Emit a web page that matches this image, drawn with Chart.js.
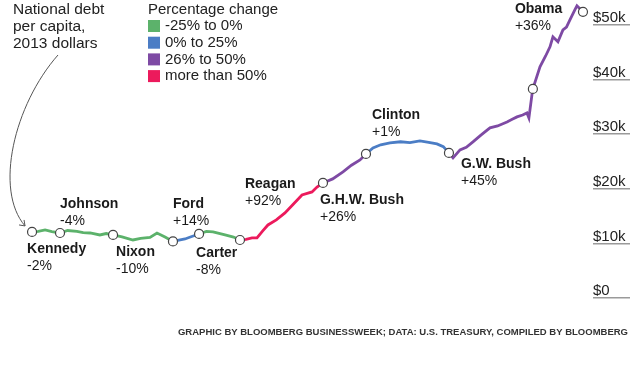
<!DOCTYPE html>
<html>
<head>
<meta charset="utf-8">
<script src="https://cdn.jsdelivr.net/npm/chart.js@4/dist/chart.umd.min.js"></script>
<style>
  body { margin: 0; background: #fff; }
  canvas { display: block; }
</style>
</head>
<body>
<canvas id="chartDeuda" width="630" height="375"></canvas>
<script>
// Debt per capita (thousands of 2013 dollars)
const years = [
    1961.00, 1961.60, 1962.25, 1962.90, 1963.68, 1964.40, 1965.30, 1965.90, 1966.56, 1967.50,
    1968.10, 1968.76, 1969.62, 1970.67, 1971.40, 1972.30, 1972.97, 1973.74, 1974.50, 1975.65,
    1976.30, 1977.00, 1977.70, 1978.34, 1979.49, 1980.30, 1980.92, 1981.50, 1982.07, 1982.55,
    1983.10, 1983.60, 1984.40, 1985.23, 1986.00, 1986.86, 1987.82, 1988.30, 1988.87, 1989.80,
    1990.79, 1991.60, 1992.42, 1992.99, 1993.66, 1994.40, 1995.29, 1996.30, 1997.20, 1998.16,
    1999.00, 1999.79, 2000.40, 2000.94, 2001.33, 2002.00, 2002.60, 2003.24, 2004.00, 2004.87,
    2005.60, 2006.50, 2007.00, 2007.46, 2008.00, 2008.41, 2008.60, 2008.89, 2008.98, 2009.66,
    2010.20, 2010.62, 2010.90, 2011.38, 2011.86, 2012.20, 2012.53, 2013.00, 2013.20, 2013.78
];
const debt = [
    12.09, 12.20, 12.45, 12.15, 11.90, 12.35, 12.18, 11.95, 11.90, 11.54,
    11.80, 11.54, 11.17, 10.62, 10.90, 11.08, 11.90, 11.17, 10.35, 10.81,
    11.25, 11.72, 12.20, 12.09, 11.54, 11.15, 10.62, 10.75, 10.99, 10.99,
    12.30, 13.37, 14.30, 15.57, 17.10, 18.86, 19.41, 20.30, 21.06, 21.80,
    23.08, 24.30, 25.27, 26.37, 27.47, 28.05, 28.39, 28.60, 28.45, 28.75,
    28.50, 28.21, 27.70, 26.56, 25.64, 27.11, 27.60, 28.57, 29.80, 31.14,
    31.50, 32.23, 32.70, 33.15, 33.50, 33.88, 32.97, 37.18, 38.28, 42.31,
    44.30, 45.97, 47.80, 46.89, 49.08, 49.60, 50.92, 52.75, 53.48, 52.38
];

// Presidents: term start, debt at start, change over the term, colour category
const presidents = ['Kennedy', 'Johnson', 'Nixon', 'Ford', 'Carter', 'Reagan', 'G.H.W. Bush', 'Clinton', 'G.W. Bush', 'Obama'];
const changes = ['-2%', '-4%', '-10%', '+14%', '-8%', '+92%', '+26%', '+1%', '+45%', '+36%'];
const termStart = [1961.00, 1963.68, 1968.76, 1974.50, 1977.00, 1980.92, 1988.87, 1992.99, 2000.94, 2008.98];
const termStartDebt = [12.09, 11.90, 11.54, 10.35, 11.72, 10.62, 21.06, 26.37, 26.56, 38.28];
const termCategory = [0, 0, 0, 1, 0, 3, 2, 1, 2, 2];
const endYear = 2013.78;
const endDebt = 52.38;

// Legend categories
const categoryLabels = ['-25% to 0%', '0% to 25%', '26% to 50%', 'more than 50%'];
const categoryColors = ['#5cb26b', '#4b7dc5', '#7e4aa4', '#ec1a5c'];

// Y axis ticks
const yTickValues = [0, 10, 20, 30, 40, 50];
const yTickLabels = ['$0', '$10k', '$20k', '$30k', '$40k', '$50k'];

const FONT = '"Liberation Sans", Arial, sans-serif';

// Where each president's name sits relative to his marker (dx, dy of the name line)
const labelPlacement = [
    [-5, 17], [0, -29], [3, 17], [0, -37], [-3, 19],
    [5, -56], [-3, 17], [6, -39], [12, 11], [-18, -80]
];

function colorForYear(x) {
    let cat = termCategory[0];
    for (let i = 0; i < termStart.length; i++) {
        if (x >= termStart[i] - 1e-6) cat = termCategory[i];
    }
    return categoryColors[cat];
}

const annotations = {
    id: 'annotations',
    afterDraw(chart) {
        const ctx = chart.ctx;
        const xs = chart.scales.x;
        const ys = chart.scales.y;
        ctx.save();
        ctx.textBaseline = 'middle';
        ctx.textAlign = 'left';

        // Header on the left
        ctx.fillStyle = '#222';
        ctx.font = '15.5px ' + FONT;
        ['National debt', 'per capita,', '2013 dollars'].forEach((t, i) => ctx.fillText(t, 13, 10 + i * 17));

        // Legend
        ctx.font = '15px ' + FONT;
        ctx.fillText('Percentage change', 148, 10);
        categoryLabels.forEach((t, i) => {
            const cy = 26 + i * 16.7;
            ctx.fillStyle = categoryColors[i];
            ctx.fillRect(148, cy - 6, 12, 12);
            ctx.fillStyle = '#222';
            ctx.fillText(t, 165, cy);
        });

        // Curved arrow towards Kennedy's marker
        const kx = xs.getPixelForValue(termStart[0]);
        const ky = ys.getPixelForValue(termStartDebt[0]);
        const ex = kx - 7, ey = ky - 6;
        ctx.strokeStyle = '#555';
        ctx.lineWidth = 1;
        ctx.beginPath();
        ctx.moveTo(58, 55);
        ctx.bezierCurveTo(14, 105, -6, 190, ex, ey);
        ctx.stroke();
        ctx.beginPath();
        ctx.moveTo(ex - 6, ey - 1);
        ctx.lineTo(ex, ey);
        ctx.lineTo(ex - 1, ey - 6);
        ctx.stroke();

        // President names and changes
        presidents.forEach((name, i) => {
            const px = xs.getPixelForValue(termStart[i]) + labelPlacement[i][0];
            const py = ys.getPixelForValue(termStartDebt[i]) + labelPlacement[i][1];
            ctx.fillStyle = '#1a1a1a';
            ctx.font = 'bold 14px ' + FONT;
            ctx.fillText(name, px, py);
            ctx.font = '14px ' + FONT;
            ctx.fillText(changes[i], px, py + 17);
        });

        // Source line
        ctx.fillStyle = '#333';
        ctx.font = 'bold 9.5px ' + FONT;
        ctx.textAlign = 'right';
        ctx.fillText('GRAPHIC BY BLOOMBERG BUSINESSWEEK; DATA: U.S. TREASURY, COMPILED BY BLOOMBERG', 628, 332);
        ctx.restore();
    }
};

function crearGrafico() {
    const ctx = document.getElementById('chartDeuda').getContext('2d');
    const lineData = years.map((x, i) => ({ x: x, y: debt[i] }));
    const markerData = termStart.map((x, i) => ({ x: x, y: termStartDebt[i] }));
    markerData.push({ x: endYear, y: endDebt });

    new Chart(ctx, {
        type: 'line',
        data: {
            datasets: [
                {
                    data: markerData,
                    showLine: false,
                    pointRadius: 4.5,
                    pointBackgroundColor: '#fff',
                    pointBorderColor: '#444',
                    pointBorderWidth: 1.2
                },
                {
                    data: lineData,
                    borderWidth: 2.8,
                    pointRadius: 0,
                    tension: 0,
                    borderColor: categoryColors[0],
                    segment: {
                        borderColor: c => colorForYear(c.p0.parsed.x)
                    }
                }
            ]
        },
        options: {
            responsive: false,
            animation: false,
            devicePixelRatio: 1,
            layout: { autoPadding: false, padding: { top: 3, bottom: 77, left: 0, right: 0 } },
            plugins: {
                legend: { display: false },
                tooltip: { enabled: false }
            },
            scales: {
                x: {
                    type: 'linear',
                    display: false,
                    min: 1957.93,
                    max: 2014.74
                },
                y: {
                    position: 'right',
                    min: 0,
                    max: 54,
                    afterBuildTicks: s => { s.ticks = yTickValues.map(v => ({ value: v })); },
                    afterFit: s => { s.width = 37; },
                    ticks: {
                        padding: -37,
                        labelOffset: -7,
                        color: '#222',
                        font: { family: FONT, size: 15 },
                        callback: v => yTickLabels[yTickValues.indexOf(v)]
                    },
                    grid: {
                        drawOnChartArea: false,
                        drawTicks: true,
                        tickLength: 37,
                        color: '#9a9a9a',
                        lineWidth: 1.5
                    },
                    border: { display: false }
                }
            }
        },
        plugins: [annotations]
    });
}

crearGrafico();
</script>
</body>
</html>
